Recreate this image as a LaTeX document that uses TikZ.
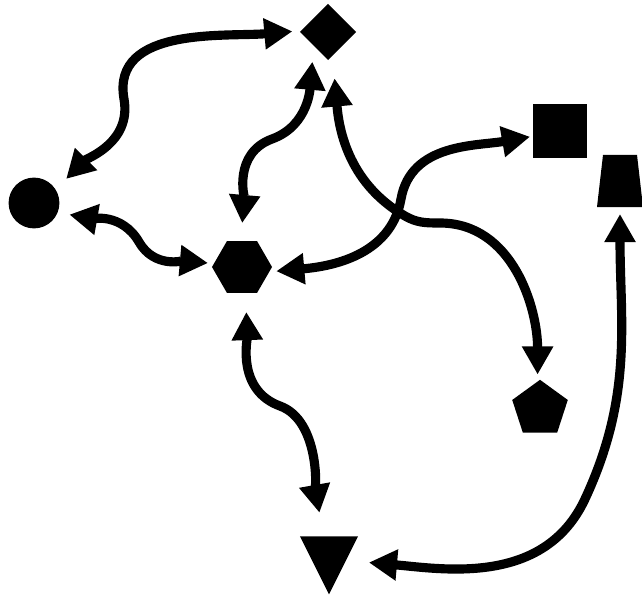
\documentclass[tikz,border=0pt]{standalone}
\usetikzlibrary{arrows.meta,shapes.geometric}
\tikzset{shp/.style={fill=black, inner sep=0pt, outer sep=0pt},
  link/.style={line width=6.5pt, >={Triangle[length=20pt,width=21pt]}, <->}}

\begin{document}
\begin{tikzpicture}[x=0.025cm, y=0.025cm]
  \useasboundingbox (0,0) rectangle (642,594);
  % the seven shapes
  \node[shp, circle, minimum size=1.27cm] (circ) at (34,391) {};
  \node[shp, diamond, minimum width=1.4cm, minimum height=1.4cm] (diam) at (328,562) {};
  \node[shp, regular polygon, regular polygon sides=6, minimum size=1.5cm] (hexa) at (242,327) {};
  \node[shp, rectangle, minimum size=1.35cm] (sqr) at (560,463) {};
  \node[shp, inner sep=1pt, trapezium, trapezium left angle=80, trapezium right angle=80,
    trapezium stretches=true, minimum width=1.15cm, minimum height=1.3cm] (trap) at (620,413) {};
  \node[shp, regular polygon, regular polygon sides=5, minimum size=1.46cm] (pent) at (540,185) {};
  \node[shp, inner sep=1pt, isosceles triangle, isosceles triangle stretches, shape border rotate=270,
    minimum width=1.45cm, minimum height=1.45cm] (tri) at (329,40) {};
  % links
  \draw[link, shorten <=3.75mm, shorten >=2.25mm] (circ.32) to[out=45,in=-80] (124,495) to[out=100,in=185] (diam.177);
  \draw[link, shorten <=3mm, shorten >=1.5mm] (circ.-22) to[out=-10,in=120] (139,352) to[out=-60,in=175] (hexa.173);
  \draw[link, shorten <=4mm, shorten >=4.5mm] (diam.224) to[out=-95,in=20] (272,455) to[out=200,in=85] (hexa.93);
  \draw[link, shorten <=5.75mm, shorten >=1.75mm] (diam.-79) to[out=-85,in=150] (405,378) to[out=-30,in=180] (440,371) to[out=0,in=90] (pent.95);
  \draw[link, shorten <=1.75mm, shorten >=0.75mm] (hexa.-10) to[out=5,in=-100] (401,395) to[out=80,in=190] (sqr.191);
  \draw[link, shorten <=4.75mm, shorten >=6mm] (hexa.-82) to[out=-88,in=160] (280,188) to[out=-20,in=100,looseness=0.8] (tri.107);
  \draw[link, shorten <=5.75mm, shorten >=1.75mm] (tri.-21) to[out=-5,in=-115] (585,95) to[out=65,in=-90] (trap.-90);
\end{tikzpicture}
\end{document}
